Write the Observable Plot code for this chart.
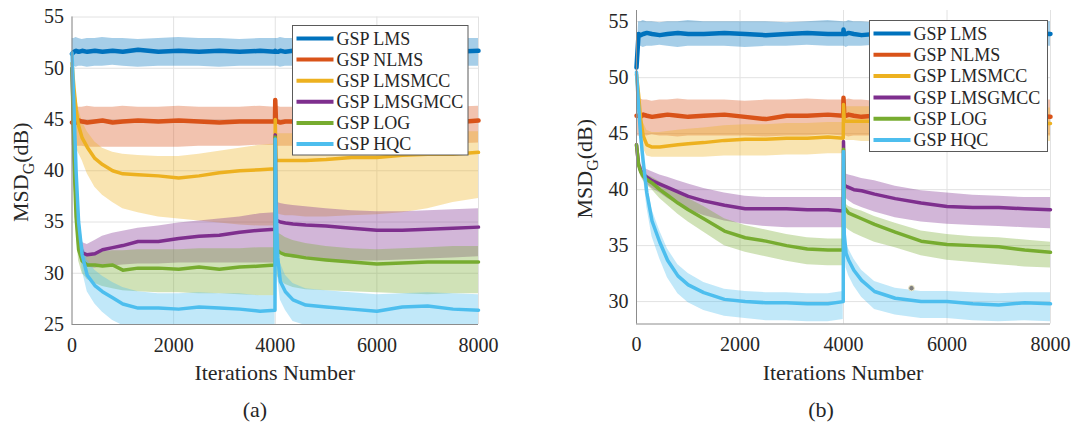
<!DOCTYPE html>
<html>
<head>
<meta charset="utf-8">
<script src="https://cdn.jsdelivr.net/npm/d3@7"></script>
<script src="https://cdn.jsdelivr.net/npm/@observablehq/plot@0.6"></script>
<style>
  body { margin: 0; background: #fff; }
  #fig { position: relative; width: 1078px; height: 424px; font-family: "Liberation Serif", "Times New Roman", serif; color: #262626; }
  .panel { position: absolute; top: 0; }
  .cap { position: absolute; top: 396px; width: 60px; height: 28px; line-height: 28px; font-size: 22px; text-align: center; }
</style>
</head>
<body>
<div id="fig">
  <div id="pa" class="panel" style="left:0px"></div>
  <div id="pb" class="panel" style="left:540px"></div>
  <div class="cap" style="left:225px">(a)</div>
  <div class="cap" style="left:791px">(b)</div>
</div>
<script>
// Algorithms and their colours
const names = ["GSP LMS", "GSP NLMS", "GSP LMSMCC", "GSP LMSGMCC", "GSP LOG", "GSP HQC"];
const colors = ["#0072BD", "#D95319", "#EDB120", "#7E2F8E", "#77AC30", "#4DBEEE"];

// Iteration grid shared by every curve (the graph changes at iteration 4000)
const iters = [0, 40, 80, 130, 200, 300, 450, 600, 800, 1000, 1300, 1700, 2100, 2500, 2900, 3300, 3700, 3995,
               4000, 4015, 4050, 4100, 4200, 4350, 4600, 5000, 5500, 6000, 6500, 7000, 7500, 8000];

const xTicks = [0, 2000, 4000, 6000, 8000];
const yTicksA = [25, 30, 35, 40, 45, 50, 55];
const yTicksB = [30, 35, 40, 45, 50, 55];

// ---- (a) mean MSD (dB) and its spread band
const lmsA    = [51.4, 51.6, 51.7, 51.6, 51.7, 51.6, 51.7, 51.6, 51.7, 51.6, 51.8, 51.6, 51.7, 51.6, 51.7, 51.6, 51.7, 51.6, 51.7, 51.6, 51.6, 51.7, 51.6, 51.7, 51.6, 51.7, 51.6, 51.7, 51.6, 51.7, 51.6, 51.7];
const lmsA_lo = [50.3, 50.2, 50.1, 50.2, 50.2, 50.1, 50.2, 50.2, 50.3, 50.2, 50.1, 50.2, 50.2, 50.2, 50.1, 50.2, 50.2, 50.2, 50.2, 50.2, 50.2, 50.1, 50.2, 50.2, 50.2, 50.3, 50.2, 50.1, 50.2, 50.2, 50.2, 50.2];
const lmsA_hi = [52.9, 52.9, 53.0, 52.9, 52.8, 52.9, 52.9, 53.0, 52.9, 52.9, 52.8, 52.9, 53.0, 52.9, 52.9, 52.8, 52.9, 52.9, 52.9, 52.9, 52.9, 53.0, 52.9, 52.9, 52.8, 52.9, 52.9, 53.0, 52.9, 52.9, 52.9, 52.9];

const nlmsA    = [44.7, 44.8, 44.7, 44.9, 44.8, 44.7, 44.8, 44.9, 44.7, 44.8, 44.9, 44.8, 44.9, 44.8, 44.7, 44.8, 44.8, 44.8, 46.9, 44.8, 44.8, 44.7, 44.8, 44.8, 44.7, 44.8, 44.8, 44.7, 44.8, 44.8, 44.7, 44.9];
const nlmsA_lo = [42.5, 42.5, 42.4, 42.4, 42.4, 42.3, 42.3, 42.3, 42.3, 42.3, 42.3, 42.3, 42.3, 42.4, 42.4, 42.4, 42.5, 42.5, 42.5, 42.4, 42.4, 42.4, 42.4, 42.4, 42.4, 42.4, 42.4, 42.5, 42.5, 42.6, 42.6, 42.7];
const nlmsA_hi = [46.2, 46.2, 46.3, 46.2, 46.2, 46.3, 46.2, 46.2, 46.2, 46.3, 46.2, 46.2, 46.3, 46.2, 46.2, 46.2, 46.3, 46.2, 46.2, 46.2, 46.3, 46.2, 46.2, 46.2, 46.3, 46.2, 46.2, 46.3, 46.2, 46.2, 46.2, 46.3];

const lmcA    = [50.5, 48.0, 46.0, 44.4, 43.2, 42.3, 41.2, 40.6, 40.0, 39.7, 39.6, 39.5, 39.3, 39.5, 39.8, 40.0, 40.1, 40.2, 45.0, 41.0, 41.0, 41.0, 41.0, 41.0, 41.0, 41.1, 41.3, 41.3, 41.5, 41.6, 41.6, 41.8];
const lmcA_lo = [50.5, 45.0, 42.3, 41.7, 41.0, 39.7, 38.4, 37.6, 36.9, 36.3, 35.9, 35.5, 35.3, 35.1, 34.9, 34.7, 34.6, 34.6, 45.0, 36.0, 35.8, 35.7, 35.6, 35.6, 35.5, 35.5, 35.6, 35.7, 35.9, 36.3, 36.9, 37.3];
const lmcA_hi = [50.5, 49.0, 47.5, 46.0, 44.8, 43.8, 42.8, 42.2, 41.8, 41.6, 41.5, 41.4, 41.4, 41.6, 41.9, 42.2, 42.5, 42.6, 45.0, 43.6, 43.6, 43.6, 43.6, 43.6, 43.6, 43.7, 43.7, 43.7, 43.7, 43.8, 43.8, 43.8];

const lgA    = [50.0, 42.5, 37.0, 33.5, 32.0, 31.8, 31.9, 32.3, 32.5, 32.7, 33.1, 33.1, 33.4, 33.6, 33.7, 34.0, 34.2, 34.3, 43.5, 35.2, 35.1, 35.0, 34.9, 34.8, 34.7, 34.6, 34.4, 34.2, 34.2, 34.3, 34.4, 34.5];
const lgA_lo = [50.0, 41.5, 36.0, 32.5, 31.0, 30.6, 30.5, 30.6, 30.7, 30.8, 30.9, 30.9, 31.0, 31.0, 31.0, 31.0, 31.0, 31.0, 43.5, 32.8, 32.3, 32.0, 31.7, 31.5, 31.4, 31.3, 31.2, 31.2, 31.3, 31.4, 31.5, 31.6];
const lgA_hi = [50.0, 43.5, 38.0, 34.5, 33.0, 32.8, 33.2, 33.6, 33.9, 34.1, 34.4, 34.6, 34.9, 35.1, 35.3, 35.5, 35.8, 35.9, 43.5, 37.0, 36.9, 36.8, 36.7, 36.6, 36.5, 36.3, 36.1, 36.0, 36.0, 36.1, 36.2, 36.3];

const logA    = [50.0, 41.0, 35.5, 32.3, 31.2, 30.8, 30.8, 30.7, 30.8, 30.3, 30.5, 30.5, 30.4, 30.6, 30.4, 30.6, 30.7, 30.8, 43.3, 32.5, 32.2, 32.0, 31.8, 31.7, 31.5, 31.3, 31.1, 30.9, 31.0, 31.1, 31.1, 31.1];
const logA_lo = [50.0, 40.0, 34.5, 31.2, 30.0, 29.4, 29.0, 28.7, 28.5, 28.3, 28.2, 28.1, 28.1, 28.0, 28.0, 27.9, 27.8, 27.8, 43.3, 30.0, 29.6, 29.3, 28.9, 28.6, 28.4, 28.3, 28.2, 28.1, 28.0, 27.9, 28.0, 28.0];
const logA_hi = [50.0, 42.0, 36.5, 33.3, 32.3, 31.9, 32.0, 32.1, 32.2, 32.2, 32.3, 32.3, 32.3, 32.4, 32.4, 32.4, 32.5, 32.5, 43.3, 34.0, 33.9, 33.8, 33.5, 33.2, 32.9, 32.6, 32.4, 32.3, 32.4, 32.5, 32.6, 32.6];

const hqcA    = [51.5, 46.0, 40.0, 35.0, 31.8, 29.8, 28.8, 28.2, 27.6, 27.0, 26.6, 26.6, 26.5, 26.7, 26.6, 26.5, 26.3, 26.4, 43.1, 37.0, 31.5, 29.2, 28.2, 27.4, 26.9, 26.7, 26.5, 26.3, 26.7, 26.8, 26.5, 26.4];
const hqcA_lo = [51.5, 45.0, 38.5, 33.5, 30.3, 28.2, 27.0, 26.2, 25.4, 24.9, 24.7, 24.7, 24.7, 24.7, 24.7, 24.7, 24.7, 24.7, 43.1, 35.5, 29.5, 27.4, 26.4, 25.3, 24.9, 24.8, 24.8, 24.8, 24.8, 24.8, 24.8, 24.8];
const hqcA_hi = [51.5, 47.0, 41.5, 36.5, 33.3, 31.3, 30.3, 29.7, 29.1, 28.6, 28.2, 28.0, 28.0, 28.1, 28.0, 28.0, 27.8, 27.8, 43.1, 38.5, 33.5, 31.0, 29.8, 29.0, 28.5, 28.3, 28.1, 27.9, 28.0, 28.1, 28.0, 27.9];

// ---- (b) mean MSD (dB) and its spread band
const lmsB    = [50.9, 53.9, 53.8, 53.9, 54.0, 53.9, 53.8, 53.9, 54.0, 53.9, 53.9, 54.0, 53.9, 53.8, 53.9, 54.0, 53.9, 53.9, 54.3, 53.9, 53.9, 54.0, 53.9, 53.8, 53.9, 54.0, 53.9, 53.9, 53.8, 53.9, 54.0, 53.9];
const lmsB_lo = [50.9, 52.8, 52.8, 52.7, 52.8, 52.8, 52.9, 52.8, 52.7, 52.8, 52.8, 52.8, 52.7, 52.8, 52.8, 52.9, 52.8, 52.8, 52.8, 52.8, 52.7, 52.8, 52.8, 52.8, 52.9, 52.8, 52.8, 52.7, 52.8, 52.8, 52.8, 52.8];
const lmsB_hi = [50.9, 55.0, 55.0, 55.1, 55.0, 55.0, 54.9, 55.0, 55.0, 55.1, 55.0, 55.0, 55.0, 55.0, 54.9, 55.0, 55.1, 55.0, 55.0, 55.0, 55.0, 55.1, 55.0, 55.0, 54.9, 55.0, 55.0, 55.1, 55.0, 55.0, 55.0, 55.0];

const nlmsB    = [46.6, 46.6, 46.5, 46.7, 46.6, 46.5, 46.6, 46.7, 46.6, 46.5, 46.6, 46.7, 46.5, 46.3, 46.6, 46.6, 46.7, 46.6, 48.2, 46.6, 46.6, 46.7, 46.6, 46.5, 46.6, 46.6, 46.7, 46.6, 46.5, 46.6, 46.6, 46.5];
const nlmsB_lo = [44.8, 44.8, 44.7, 44.8, 44.8, 44.9, 44.8, 44.8, 44.7, 44.8, 44.8, 44.8, 44.8, 44.7, 44.8, 44.8, 44.9, 44.8, 44.8, 44.8, 44.8, 44.7, 44.8, 44.8, 44.8, 44.9, 44.8, 44.8, 44.7, 44.8, 44.8, 44.8];
const nlmsB_hi = [48.0, 48.0, 48.1, 48.0, 48.0, 47.9, 48.0, 48.0, 48.1, 48.0, 48.0, 48.0, 47.9, 48.0, 48.0, 48.1, 48.0, 48.0, 48.0, 48.0, 48.0, 48.1, 48.0, 48.0, 47.9, 48.0, 48.0, 48.1, 48.0, 48.0, 48.0, 48.0];

const lmcB    = [50.3, 48.5, 46.3, 44.8, 44.0, 43.8, 43.8, 43.9, 44.0, 44.1, 44.2, 44.4, 44.5, 44.5, 44.6, 44.6, 44.7, 44.6, 47.6, 46.1, 46.1, 46.1, 46.1, 46.1, 46.1, 46.1, 46.1, 46.0, 46.0, 46.0, 45.9, 45.9];
const lmcB_lo = [50.3, 48.0, 45.3, 43.7, 43.0, 42.9, 42.9, 42.9, 42.9, 42.9, 42.9, 43.0, 43.0, 43.0, 43.1, 43.1, 43.2, 43.2, 47.6, 44.5, 44.4, 44.4, 44.4, 44.3, 44.3, 44.3, 44.3, 44.3, 44.3, 44.3, 44.3, 44.3];
const lmcB_hi = [50.3, 49.0, 47.3, 46.0, 45.3, 45.1, 45.1, 45.2, 45.3, 45.4, 45.5, 45.7, 45.8, 45.8, 45.9, 45.9, 46.0, 46.0, 47.6, 47.4, 47.4, 47.4, 47.4, 47.4, 47.4, 47.4, 47.4, 47.3, 47.3, 47.3, 47.3, 47.3];

const lgB    = [44.0, 42.3, 41.7, 41.4, 41.1, 40.8, 40.5, 40.2, 39.8, 39.4, 39.0, 38.6, 38.3, 38.3, 38.3, 38.2, 38.2, 38.1, 44.3, 40.4, 40.3, 40.2, 40.0, 39.9, 39.6, 39.2, 38.8, 38.5, 38.4, 38.4, 38.3, 38.2];
const lgB_lo = [43.7, 41.9, 41.3, 40.9, 40.5, 40.1, 39.7, 39.2, 38.7, 38.2, 37.7, 37.2, 36.9, 36.7, 36.6, 36.6, 36.6, 36.6, 44.3, 39.4, 39.2, 39.0, 38.7, 38.4, 38.0, 37.5, 37.1, 36.9, 36.8, 36.7, 36.6, 36.5];
const lgB_hi = [44.3, 42.7, 42.2, 42.0, 41.8, 41.6, 41.3, 41.1, 40.8, 40.5, 40.1, 39.7, 39.4, 39.3, 39.3, 39.3, 39.3, 39.3, 44.3, 41.4, 41.4, 41.3, 41.2, 41.0, 40.8, 40.3, 39.9, 39.7, 39.5, 39.4, 39.3, 39.3];

const logB    = [44.0, 42.2, 41.6, 41.2, 40.9, 40.6, 40.0, 39.5, 38.8, 38.2, 37.4, 36.3, 35.7, 35.4, 35.0, 34.7, 34.6, 34.6, 43.6, 38.4, 38.2, 37.9, 37.7, 37.4, 36.9, 36.2, 35.4, 35.1, 35.0, 34.9, 34.6, 34.4];
const logB_lo = [43.8, 41.9, 41.2, 40.8, 40.4, 40.0, 39.2, 38.6, 37.8, 37.1, 36.2, 35.0, 34.4, 34.0, 33.6, 33.3, 33.2, 33.2, 43.6, 36.8, 36.6, 36.4, 36.1, 35.8, 35.3, 34.8, 34.1, 33.7, 33.5, 33.3, 33.1, 33.0];
const logB_hi = [44.2, 42.5, 42.0, 41.6, 41.3, 41.1, 40.7, 40.3, 39.7, 39.2, 38.5, 37.4, 36.8, 36.4, 36.0, 35.7, 35.6, 35.6, 43.6, 38.8, 38.7, 38.5, 38.3, 38.1, 37.6, 37.0, 36.3, 36.0, 35.8, 35.7, 35.5, 35.3];

const hqcB    = [50.5, 47.5, 44.8, 42.5, 39.7, 37.2, 35.3, 33.7, 32.3, 31.5, 30.8, 30.2, 30.0, 29.9, 29.9, 29.8, 29.8, 30.0, 43.4, 36.0, 34.3, 33.7, 32.8, 31.9, 30.9, 30.3, 30.0, 30.0, 29.8, 29.7, 29.9, 29.8];
const hqcB_lo = [50.5, 46.7, 43.7, 41.3, 38.4, 35.8, 33.8, 32.1, 30.7, 29.9, 29.2, 28.7, 28.5, 28.3, 28.3, 28.2, 28.2, 28.4, 43.4, 34.8, 33.0, 32.3, 31.4, 30.4, 29.3, 28.8, 28.5, 28.5, 28.3, 28.2, 28.3, 28.2];
const hqcB_hi = [50.5, 48.2, 45.7, 43.5, 40.7, 38.2, 36.3, 34.7, 33.3, 32.5, 31.7, 31.1, 30.9, 30.8, 30.8, 30.7, 30.7, 30.9, 43.4, 37.0, 35.3, 34.7, 33.8, 32.8, 31.8, 31.2, 30.9, 30.9, 30.8, 30.7, 30.8, 30.8];

// Single highlighted sample in (b)
const tipIter = [5314];
const tipValue = [31.2];

const gridColor = "#e2e2e2";
const axisColor = "#8c8c8c";
const textColor = "#262626";

function rowsOf(mean, lo, hi) {
  return iters.map((x, k) => ({x, y: mean[k], lo: lo[k], hi: hi[k]}));
}

function drawPanel(cfg) {
  const {el, width, height, margin, yDomain, yTicks, series, legend, ylabelX, extra} = cfg;
  const data = series.map(([m, lo, hi]) => rowsOf(m, lo, hi));
  const marks = [
    Plot.gridX(xTicks, {stroke: gridColor, strokeOpacity: 1}),
    Plot.gridY(yTicks, {stroke: gridColor, strokeOpacity: 1}),
    ...data.map((d, i) => Plot.areaY(d, {x: "x", y1: "lo", y2: "hi", fill: colors[i], fillOpacity: 0.35, clip: true})),
    ...data.map((d, i) => Plot.lineY(d, {x: "x", y: "y", stroke: colors[i], strokeWidth: i < 2 ? 4.5 : 3.5})),
    ...(extra || []),
    Plot.ruleX([0], {stroke: axisColor}),
    Plot.ruleY([yDomain[0]], {stroke: axisColor}),
    Plot.axisX({ticks: xTicks, tickSize: 0, tickPadding: 13, tickFormat: d3.format("d"), fontSize: 20, label: null}),
    Plot.axisY({ticks: yTicks, tickSize: 0, tickPadding: 8, fontSize: 20, label: null})
  ];
  const chart = Plot.plot({
    width, height,
    marginLeft: margin[0], marginRight: margin[1], marginTop: margin[2], marginBottom: margin[3],
    x: {domain: [0, 8000]},
    y: {domain: yDomain},
    style: {fontFamily: "'Liberation Serif', 'Times New Roman', serif", fontSize: "20px", color: textColor, background: "transparent", overflow: "visible"},
    marks
  });
  const svg = d3.select(chart);

  // x-axis title
  const cx = (margin[0] + width - margin[1]) / 2;
  svg.append("text").attr("x", cx).attr("y", 380).attr("text-anchor", "middle")
    .attr("font-size", 22).attr("fill", textColor).text("Iterations Number");

  // y-axis title with subscript
  const cy = (margin[2] + height - margin[3]) / 2 + 2;
  const yl = svg.append("text").attr("transform", `translate(${ylabelX},${cy}) rotate(-90)`)
    .attr("text-anchor", "middle").attr("font-size", 22).attr("fill", textColor);
  yl.append("tspan").text("MSD");
  yl.append("tspan").attr("font-size", 16).attr("dy", 6).text("G");
  yl.append("tspan").attr("dy", -6).text("(dB)");

  // legend box
  const g = svg.append("g").attr("text-anchor", "start");
  g.append("rect").attr("x", legend.x).attr("y", legend.y).attr("width", legend.w).attr("height", legend.h)
    .attr("fill", "#fff").attr("stroke", "#5a5a5a").attr("stroke-width", 1);
  names.forEach((n, i) => {
    const ry = legend.row0 + i * legend.step;
    g.append("line").attr("x1", legend.x + 4).attr("x2", legend.x + 41).attr("y1", ry).attr("y2", ry)
      .attr("stroke", colors[i]).attr("stroke-width", 4);
    g.append("text").attr("x", legend.x + 44).attr("y", ry).attr("dy", "0.34em")
      .attr("text-anchor", "start").attr("font-size", 18).attr("fill", textColor).text(n);
  });

  document.getElementById(el).appendChild(chart);
}

drawPanel({
  el: "pa", width: 540, height: 385, margin: [71.5, 62, 16.5, 61],
  yDomain: [25, 55], yTicks: yTicksA,
  series: [[lmsA, lmsA_lo, lmsA_hi], [nlmsA, nlmsA_lo, nlmsA_hi], [lmcA, lmcA_lo, lmcA_hi],
           [lgA, lgA_lo, lgA_hi], [logA, logA_lo, logA_hi], [hqcA, hqcA_lo, hqcA_hi]],
  legend: {x: 292.5, y: 25.5, w: 175.5, h: 129.5, row0: 38.5, step: 21.1},
  ylabelX: 27.5
});

drawPanel({
  el: "pb", width: 538, height: 385, margin: [96, 28, 10, 61.5],
  yDomain: [28, 56], yTicks: yTicksB,
  series: [[lmsB, lmsB_lo, lmsB_hi], [nlmsB, nlmsB_lo, nlmsB_hi], [lmcB, lmcB_lo, lmcB_hi],
           [lgB, lgB_lo, lgB_hi], [logB, logB_lo, logB_hi], [hqcB, hqcB_lo, hqcB_hi]],
  legend: {x: 329.5, y: 20.5, w: 178, h: 131, row0: 33.5, step: 21.3},
  ylabelX: 51.5,
  extra: [Plot.dot(tipIter.map((x, k) => ({x, y: tipValue[k]})), {x: "x", y: "y", r: 2.8, fill: "#808080", stroke: "#f2eecb", strokeWidth: 1})]
});
</script>
</body>
</html>
